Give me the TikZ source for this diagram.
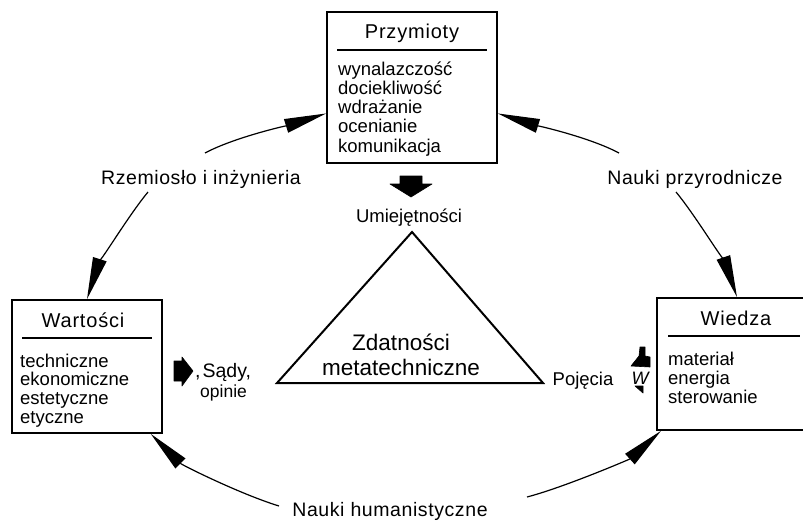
\documentclass[tikz,border=0pt]{standalone}
\usepackage{fontspec}
\setmainfont{Liberation Sans}
\usetikzlibrary{arrows.meta,calc}

\begin{document}
\begin{tikzpicture}[x=1pt,y=-1pt,
  box/.style={draw, line width=1.7pt, rectangle, inner sep=0pt},
  rulel/.style={line width=1.4pt},
  lbl/.style={inner sep=0pt, anchor=base, font=\fontsize{19.5}{20}\selectfont\addfontfeature{LetterSpace=3}},
  sml/.style={inner sep=0pt, anchor=base, font=\fontsize{18.5}{19}\selectfont},
  ttl/.style={inner sep=0pt, anchor=base, font=\fontsize{20}{21}\selectfont\addfontfeature{LetterSpace=4}},
  itm/.style={inner sep=0pt, anchor=base west, font=\fontsize{18.5}{19}\selectfont},
  cyc/.style={line width=1.2pt, -{Triangle[length=42pt,width=14pt]}},
  blk/.style={fill=black, draw=black, line width=0.6pt, line join=round}
]
\useasboundingbox (0,0) rectangle (803,520);

% ---------- boxes ----------
\node[box, minimum width=170pt, minimum height=151pt] (przy) at (412,87.5) {};
\node[box, minimum width=150pt, minimum height=133pt] (wart) at (87,366.5) {};
\node[box, minimum width=160pt, minimum height=132pt] (wied) at (737,364) {};

% Przymioty
\node[ttl] (przyT) at (412,38) {Przymioty};
\draw[rulel] (337,50) -- (487,50);
\foreach \t [count=\i] in {wynalazczość, dociekliwość, wdrażanie, ocenianie, komunikacja}
  \node[itm] (przy\i) at (338,{75+19.25*(\i-1)}) {\t};

% Wartości
\node[ttl] (wartT) at (83,327) {Wartości};
\draw[rulel] (22,338) -- (152,338);
\foreach \t [count=\i] in {techniczne, ekonomiczne, estetyczne, etyczne}
  \node[itm] (wart\i) at (20,{367+18.7*(\i-1)}) {\t};

% Wiedza
\node[ttl] (wiedT) at (736,325) {Wiedza};
\draw[rulel] (668,336) -- (800,336);
\foreach \t [count=\i] in {materiał, energia, sterowanie}
  \node[itm] (wied\i) at (668,{365+19*(\i-1)}) {\t};

% ---------- centre ----------
\coordinate (apex) at (412,232);
\coordinate (bl) at (277,383);
\coordinate (br) at (543,383);
\draw[line width=2pt, line join=miter] (apex) -- (bl) -- (br) -- cycle;
\node[inner sep=0pt, anchor=base, font=\fontsize{22.5}{24}\selectfont] (zd1) at (401,350) {Zdatności};
\node[inner sep=0pt, anchor=base, font=\fontsize{22.5}{24}\selectfont] (zd2) at (401,375) {metatechniczne};

\node[sml] (umiej) at (409,222) {Umiejętności};
\draw[blk] (400,176) -- (422,176) -- (422,184) -- (432,184) -- (411,197) -- (390,184) -- (400,184) -- cycle;

\draw[blk] (174,361) -- (182,361) -- (182,357) -- (193,371) -- (182,386) -- (182,381) -- (174,381) -- cycle;
\node[inner sep=0pt, anchor=base west, font=\fontsize{19.5}{20}\selectfont] (sady) at (195,377) {,\kern2pt Sądy,};
\node[inner sep=0pt, anchor=base west, font=\fontsize{17.5}{18}\selectfont] (opinie) at (200,397) {opinie};

\node[sml] (poj) at (583,385) {Pojęcia};
\draw[blk] (640,347) -- (645,347) -- (645,356) -- (650,357) -- (650,367) -- (631,366) -- (639,356) -- cycle;
\node[inner sep=0pt, anchor=base, font=\fontsize{18}{18}\selectfont\itshape] (wsym) at (640,384) {W};
\draw[blk] (635,386) -- (643,386) -- (643,393) -- cycle;

% ---------- outer cycle ----------
\node[lbl] (rz) at (201,184) {Rzemiosło i inżynieria};
\node[lbl] (np) at (695,184) {Nauki przyrodnicze};
\node[lbl] (nh) at (390,516) {Nauki humanistyczne};

\coordinate (s1) at (205,153);
\coordinate (s2) at (148,192);
\coordinate (s3) at (619,153);
\coordinate (s4) at (676,192);
\coordinate (s5) at (279,506);
\coordinate (s6) at (527,497);

\draw[cyc] (s1) .. controls (235,137) and (289,125) .. ($(przy.north west)!0.67!(przy.south west)$);
\draw[cyc] (s2) .. controls (128,216) and (97,268) .. (wart.north);
\draw[cyc] (s3) .. controls (589,137) and (535,125) .. ($(przy.north east)!0.67!(przy.south east)$);
\draw[cyc] (s4) .. controls (696,216) and (727,268) .. (wied.north);
\draw[cyc] (s5) .. controls (240,494) and (182,465) .. ($(wart.south west)!0.92!(wart.south east)$);
\draw[cyc] (s6) .. controls (565,487) and (630,459) .. ($(wied.south west)!0.03!(wied.south east)$);
\end{tikzpicture}
\end{document}
